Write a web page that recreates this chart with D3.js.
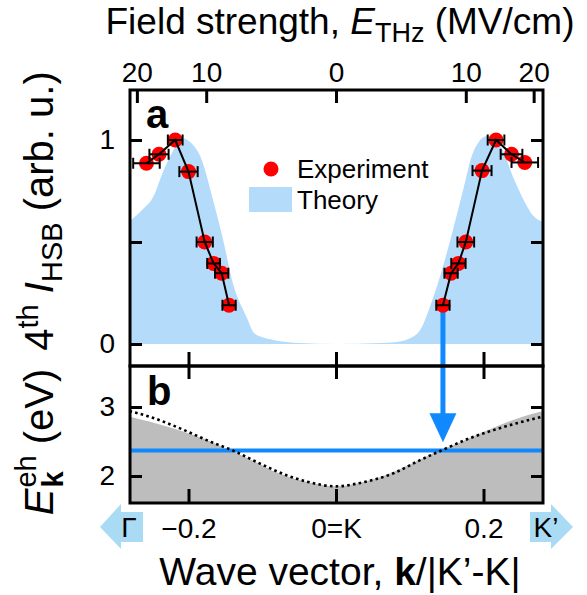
<!DOCTYPE html>
<html>
<head>
<meta charset="utf-8">
<script src="https://cdn.jsdelivr.net/npm/d3@7"></script>
<style>
  body { margin: 0; background: #fff; }
  svg { display: block; font-family: "Liberation Sans", Arial, sans-serif; }
  .axis text { font-size: 28px; fill: #000; }
  .axis line { stroke: #000; stroke-width: 3; }
</style>
</head>
<body>
<svg id="chart" width="587" height="595"></svg>
<script>
// Données
var fieldTicks = [-20, -10, 0, 10, 20];
var fieldTickK = [-0.270, -0.176, 0, 0.176, 0.268];
var kTicks = [-0.2, 0, 0.2];
var kTickLabels = ["\u22120.2", "0=K", "0.2"];

// points expérimentaux (k, intensité, barre d'erreur en k)
var expK = [-0.257, -0.240, -0.218, -0.200, -0.178, -0.166, -0.155, -0.145,
            0.145, 0.156, 0.166, 0.176, 0.198, 0.217, 0.238, 0.256];
var expI = [0.886, 0.93, 1.00, 0.845, 0.50, 0.395, 0.347, 0.19,
            0.19, 0.347, 0.395, 0.50, 0.85, 1.00, 0.93, 0.89];
var expErr = [0.018, 0.013, 0.010, 0.0124, 0.011, 0.0086, 0.009, 0.009,
              0.009, 0.009, 0.0097, 0.0113, 0.0129, 0.0113, 0.0147, 0.018];

// courbe théorique
var theoryK = [-0.28, -0.262, -0.248, -0.235, -0.222, -0.209, -0.195, -0.184, -0.167,
               -0.153, -0.140, -0.121, -0.110, -0.085, -0.049, 0,
               0.060, 0.083, 0.110, 0.132, 0.155, 0.172, 0.186, 0.205, 0.226, 0.240, 0.254, 0.267, 0.28];
var theoryI = [0.60, 0.66, 0.72, 0.84, 0.94, 1.01, 0.98, 0.92, 0.71,
               0.51, 0.30, 0.13, 0.05, 0.02, 0.005, 0,
               0.005, 0.01, 0.05, 0.23, 0.51, 0.75, 0.94, 1.02, 0.95, 0.82, 0.71, 0.63, 0.60];

// panneau b : énergie de paire (pointillés) et zone grise
var bandK = [-0.28, -0.253, -0.207, -0.171, -0.14, -0.103, -0.067, -0.04, 0,
             0.033, 0.078, 0.114, 0.143, 0.182, 0.227, 0.28];
var bandE = [2.94, 2.86, 2.67, 2.50, 2.37, 2.18, 2.01, 1.92, 1.85,
             1.90, 2.04, 2.23, 2.37, 2.55, 2.71, 2.86];
var greyK = [-0.28, -0.227, -0.182, -0.143, -0.114, -0.078, -0.033, 0,
             0.04, 0.067, 0.103, 0.14, 0.171, 0.207, 0.253, 0.28];
var greyE = [2.86, 2.71, 2.55, 2.37, 2.23, 2.04, 1.90, 1.85,
             1.92, 2.01, 2.18, 2.37, 2.50, 2.67, 2.86, 2.94];
var photonE = 2.37;
var arrowK = 0.145;

// Mise en page
var left = 130, right = 543, aTop = 90, aBot = 366, bBot = 503;
var svg = d3.select("#chart");

var kx = d3.scaleLinear().domain([-0.28, 0.28]).range([129.5, 542.5]);
var yA = d3.scaleLinear().domain([0, 1]).range([344, 140]);
var yB = d3.scaleLinear().domain([2, 3]).range([476, 407]);
var topX = d3.scaleLinear().domain(fieldTicks).range(fieldTickK.map(kx));

var defs = svg.append("defs");
defs.append("clipPath").attr("id", "clipA").append("rect")
  .attr("x", left).attr("y", aTop).attr("width", right - left).attr("height", aBot - aTop);
defs.append("clipPath").attr("id", "clipB").append("rect")
  .attr("x", left).attr("y", aBot).attr("width", right - left).attr("height", bBot - aBot);

// Panneau a : théorie
var theory = theoryK.map(function(k, i) { return [k, theoryI[i]]; });
svg.append("path")
  .datum(theory)
  .attr("clip-path", "url(#clipA)")
  .attr("fill", "#b4dbfa")
  .attr("d", d3.area()
    .x(function(d) { return kx(d[0]); })
    .y0(yA(0))
    .y1(function(d) { return yA(d[1]); })
    .curve(d3.curveMonotoneX));

// Panneau b : zone grise
var grey = greyK.map(function(k, i) { return [k, greyE[i]]; });
svg.append("path")
  .datum(grey)
  .attr("clip-path", "url(#clipB)")
  .attr("fill", "#bdbdbd")
  .attr("d", d3.area()
    .x(function(d) { return kx(d[0]); })
    .y0(bBot)
    .y1(function(d) { return yB(d[1]); })
    .curve(d3.curveMonotoneX));

// ligne bleue horizontale
svg.append("line")
  .attr("x1", left).attr("x2", right)
  .attr("y1", yB(photonE)).attr("y2", yB(photonE))
  .attr("stroke", "#1089ff").attr("stroke-width", 4);

// pointillés
var band = bandK.map(function(k, i) { return [k, bandE[i]]; });
svg.append("path")
  .datum(band)
  .attr("clip-path", "url(#clipB)")
  .attr("fill", "none")
  .attr("stroke", "#000")
  .attr("stroke-width", 2.6)
  .attr("stroke-dasharray", "2.6,3.2")
  .attr("d", d3.line()
    .x(function(d) { return kx(d[0]); })
    .y(function(d) { return yB(d[1]); })
    .curve(d3.curveMonotoneX));

// flèche bleue verticale
var ax = kx(arrowK), headTop = yB(2.91), headTip = yB(2.49);
svg.append("line")
  .attr("x1", ax).attr("x2", ax)
  .attr("y1", yA(0.19)).attr("y2", headTop + 2)
  .attr("stroke", "#1089ff").attr("stroke-width", 5);
svg.append("path")
  .attr("fill", "#1089ff")
  .attr("d", "M" + (ax - 13.5) + "," + headTop + "L" + (ax + 13.5) + "," + headTop + "L" + ax + "," + headTip + "Z");

// Points expérimentaux
var exp = expK.map(function(k, i) { return { k: k, I: expI[i], e: expErr[i] }; });
svg.selectAll("circle.exp")
  .data(exp)
  .enter().append("circle")
  .attr("class", "exp")
  .attr("cx", function(d) { return kx(d.k); })
  .attr("cy", function(d) { return yA(d.I); })
  .attr("r", 7.5)
  .attr("fill", "#ff0000");

var expLine = d3.line()
  .x(function(d) { return kx(d.k); })
  .y(function(d) { return yA(d.I); });
[exp.filter(function(d) { return d.k < 0; }), exp.filter(function(d) { return d.k > 0; })]
  .forEach(function(part) {
    svg.append("path")
      .datum(part)
      .attr("fill", "none")
      .attr("stroke", "#000")
      .attr("stroke-width", 2)
      .attr("d", expLine);
  });

var bars = svg.selectAll("g.err").data(exp).enter().append("g").attr("class", "err")
  .attr("stroke", "#000").attr("stroke-width", 2);
bars.append("line")
  .attr("x1", function(d) { return kx(d.k - d.e); })
  .attr("x2", function(d) { return kx(d.k + d.e); })
  .attr("y1", function(d) { return yA(d.I); })
  .attr("y2", function(d) { return yA(d.I); });
[-1, 1].forEach(function(s) {
  bars.append("line")
    .attr("x1", function(d) { return kx(d.k + s * d.e); })
    .attr("x2", function(d) { return kx(d.k + s * d.e); })
    .attr("y1", function(d) { return yA(d.I) - 5.5; })
    .attr("y2", function(d) { return yA(d.I) + 5.5; });
});

// Cadres
svg.append("rect")
  .attr("x", left).attr("y", aTop).attr("width", right - left).attr("height", aBot - aTop)
  .attr("fill", "none").attr("stroke", "#000").attr("stroke-width", 3);
svg.append("rect")
  .attr("x", left).attr("y", aBot).attr("width", right - left).attr("height", bBot - aBot)
  .attr("fill", "none").attr("stroke", "#000").attr("stroke-width", 3);

// Axes
function axisG(tr) {
  return svg.append("g").attr("class", "axis").attr("transform", tr);
}
function clean(g) {
  g.select(".domain").remove();
  g.attr("font-size", null).attr("font-family", null);
}
axisG("translate(0," + aTop + ")")
  .call(d3.axisTop(topX).tickValues(fieldTicks).tickSize(-13).tickPadding(8)
    .tickFormat(function(d) { return Math.abs(d); }))
  .call(clean);
axisG("translate(" + left + ",0)")
  .call(d3.axisLeft(yA).tickValues([0, 0.5, 1]).tickSize(-12).tickPadding(15)
    .tickFormat(function(d) { return d === 0.5 ? "" : d; }))
  .call(clean);
axisG("translate(" + right + ",0)")
  .call(d3.axisRight(yA).tickValues([0, 0.5, 1]).tickSize(-12).tickFormat(""))
  .call(clean);
axisG("translate(0," + aBot + ")")
  .call(d3.axisBottom(kx).tickValues(kTicks).tickSize(-14).tickFormat(""))
  .call(clean);
axisG("translate(0," + aBot + ")")
  .call(d3.axisTop(kx).tickValues(kTicks).tickSize(-13).tickFormat(""))
  .call(clean);
axisG("translate(" + left + ",0)")
  .call(d3.axisLeft(yB).tickValues([2, 3]).tickSize(-12).tickPadding(15)
    .tickFormat(d3.format("d")))
  .call(clean);
axisG("translate(" + right + ",0)")
  .call(d3.axisRight(yB).tickValues([2, 3]).tickSize(-12).tickFormat(""))
  .call(clean);
axisG("translate(0," + bBot + ")")
  .call(d3.axisBottom(kx).tickValues(kTicks).tickSize(-14).tickPadding(15)
    .tickFormat(function(d, i) { return kTickLabels[i]; }))
  .call(clean);

// Flèches Γ et K'
var arrowCol = "#a9dcf4";
svg.append("path").attr("fill", arrowCol)
  .attr("d", "M143,512L121,512L121,504L100,527L121,549L121,542L143,542Z");
svg.append("path").attr("fill", arrowCol)
  .attr("d", "M530,512L551,512L551,504L573,527L551,549L551,542L530,542Z");
svg.append("text").attr("x", 129).attr("y", 537).attr("text-anchor", "middle")
  .attr("font-size", 28).text("\u0393");
svg.append("text").attr("x", 546).attr("y", 537).attr("text-anchor", "middle")
  .attr("font-size", 28).text("K\u2019");

// Lettres des panneaux
svg.append("text").attr("x", 146).attr("y", 128).attr("font-size", 40)
  .attr("font-weight", "bold").text("a");
svg.append("text").attr("x", 147).attr("y", 405).attr("font-size", 40)
  .attr("font-weight", "bold").text("b");

// Légende
svg.append("circle").attr("cx", 271).attr("cy", 169).attr("r", 7.5).attr("fill", "#ff0000");
svg.append("text").attr("x", 297).attr("y", 178).attr("font-size", 26).text("Experiment");
svg.append("rect").attr("x", 249).attr("y", 187).attr("width", 43).attr("height", 25)
  .attr("fill", "#b4dbfa");
svg.append("text").attr("x", 297).attr("y", 209).attr("font-size", 26).text("Theory");

// Titres des axes
var title = svg.append("text").attr("x", 340).attr("y", 34)
  .attr("text-anchor", "middle").attr("font-size", 37);
title.append("tspan").text("Field strength, ");
title.append("tspan").attr("font-style", "italic").text("E");
title.append("tspan").attr("font-size", 27).attr("dy", 8).text("THz");
title.append("tspan").attr("dy", -8).text(" (MV/cm)");

var xlab = svg.append("text").attr("x", 340).attr("y", 585)
  .attr("text-anchor", "middle").attr("font-size", 39);
xlab.append("tspan").text("Wave vector, ");
xlab.append("tspan").attr("font-weight", "bold").text("k");
xlab.append("tspan").text("/|K\u2019-K|");

var ylabA = svg.append("text").attr("transform", "translate(53,211) rotate(-90)")
  .attr("text-anchor", "middle").attr("font-size", 40);
ylabA.append("tspan").text("4");
ylabA.append("tspan").attr("font-size", 29).attr("dy", -15).text("th");
ylabA.append("tspan").attr("dy", 15).attr("font-style", "italic").text(" I");
ylabA.append("tspan").attr("font-size", 29).attr("dy", 9).text("HSB");
ylabA.append("tspan").attr("dy", -9).text(" (arb. u.)");

// E_k^eh (eV), indice et exposant superposés
var gB = svg.append("g").attr("transform", "translate(53,442) rotate(-90)");
var inner = gB.append("g");
var tE = inner.append("text").attr("font-size", 40).attr("font-style", "italic").text("E");
var wE = tE.node().getComputedTextLength() + 1;
var tk = inner.append("text").attr("x", wE).attr("y", 10).attr("font-size", 29)
  .attr("font-weight", "bold").text("k");
var teh = inner.append("text").attr("x", wE).attr("y", -17).attr("font-size", 29).text("eh");
var wS = Math.max(tk.node().getComputedTextLength(), teh.node().getComputedTextLength());
var tEV = inner.append("text").attr("x", wE + wS + 11).attr("font-size", 40).text("(eV)");
var total = wE + wS + 11 + tEV.node().getComputedTextLength();
inner.attr("transform", "translate(" + (-total / 2) + ",0)");
</script>
</body>
</html>
